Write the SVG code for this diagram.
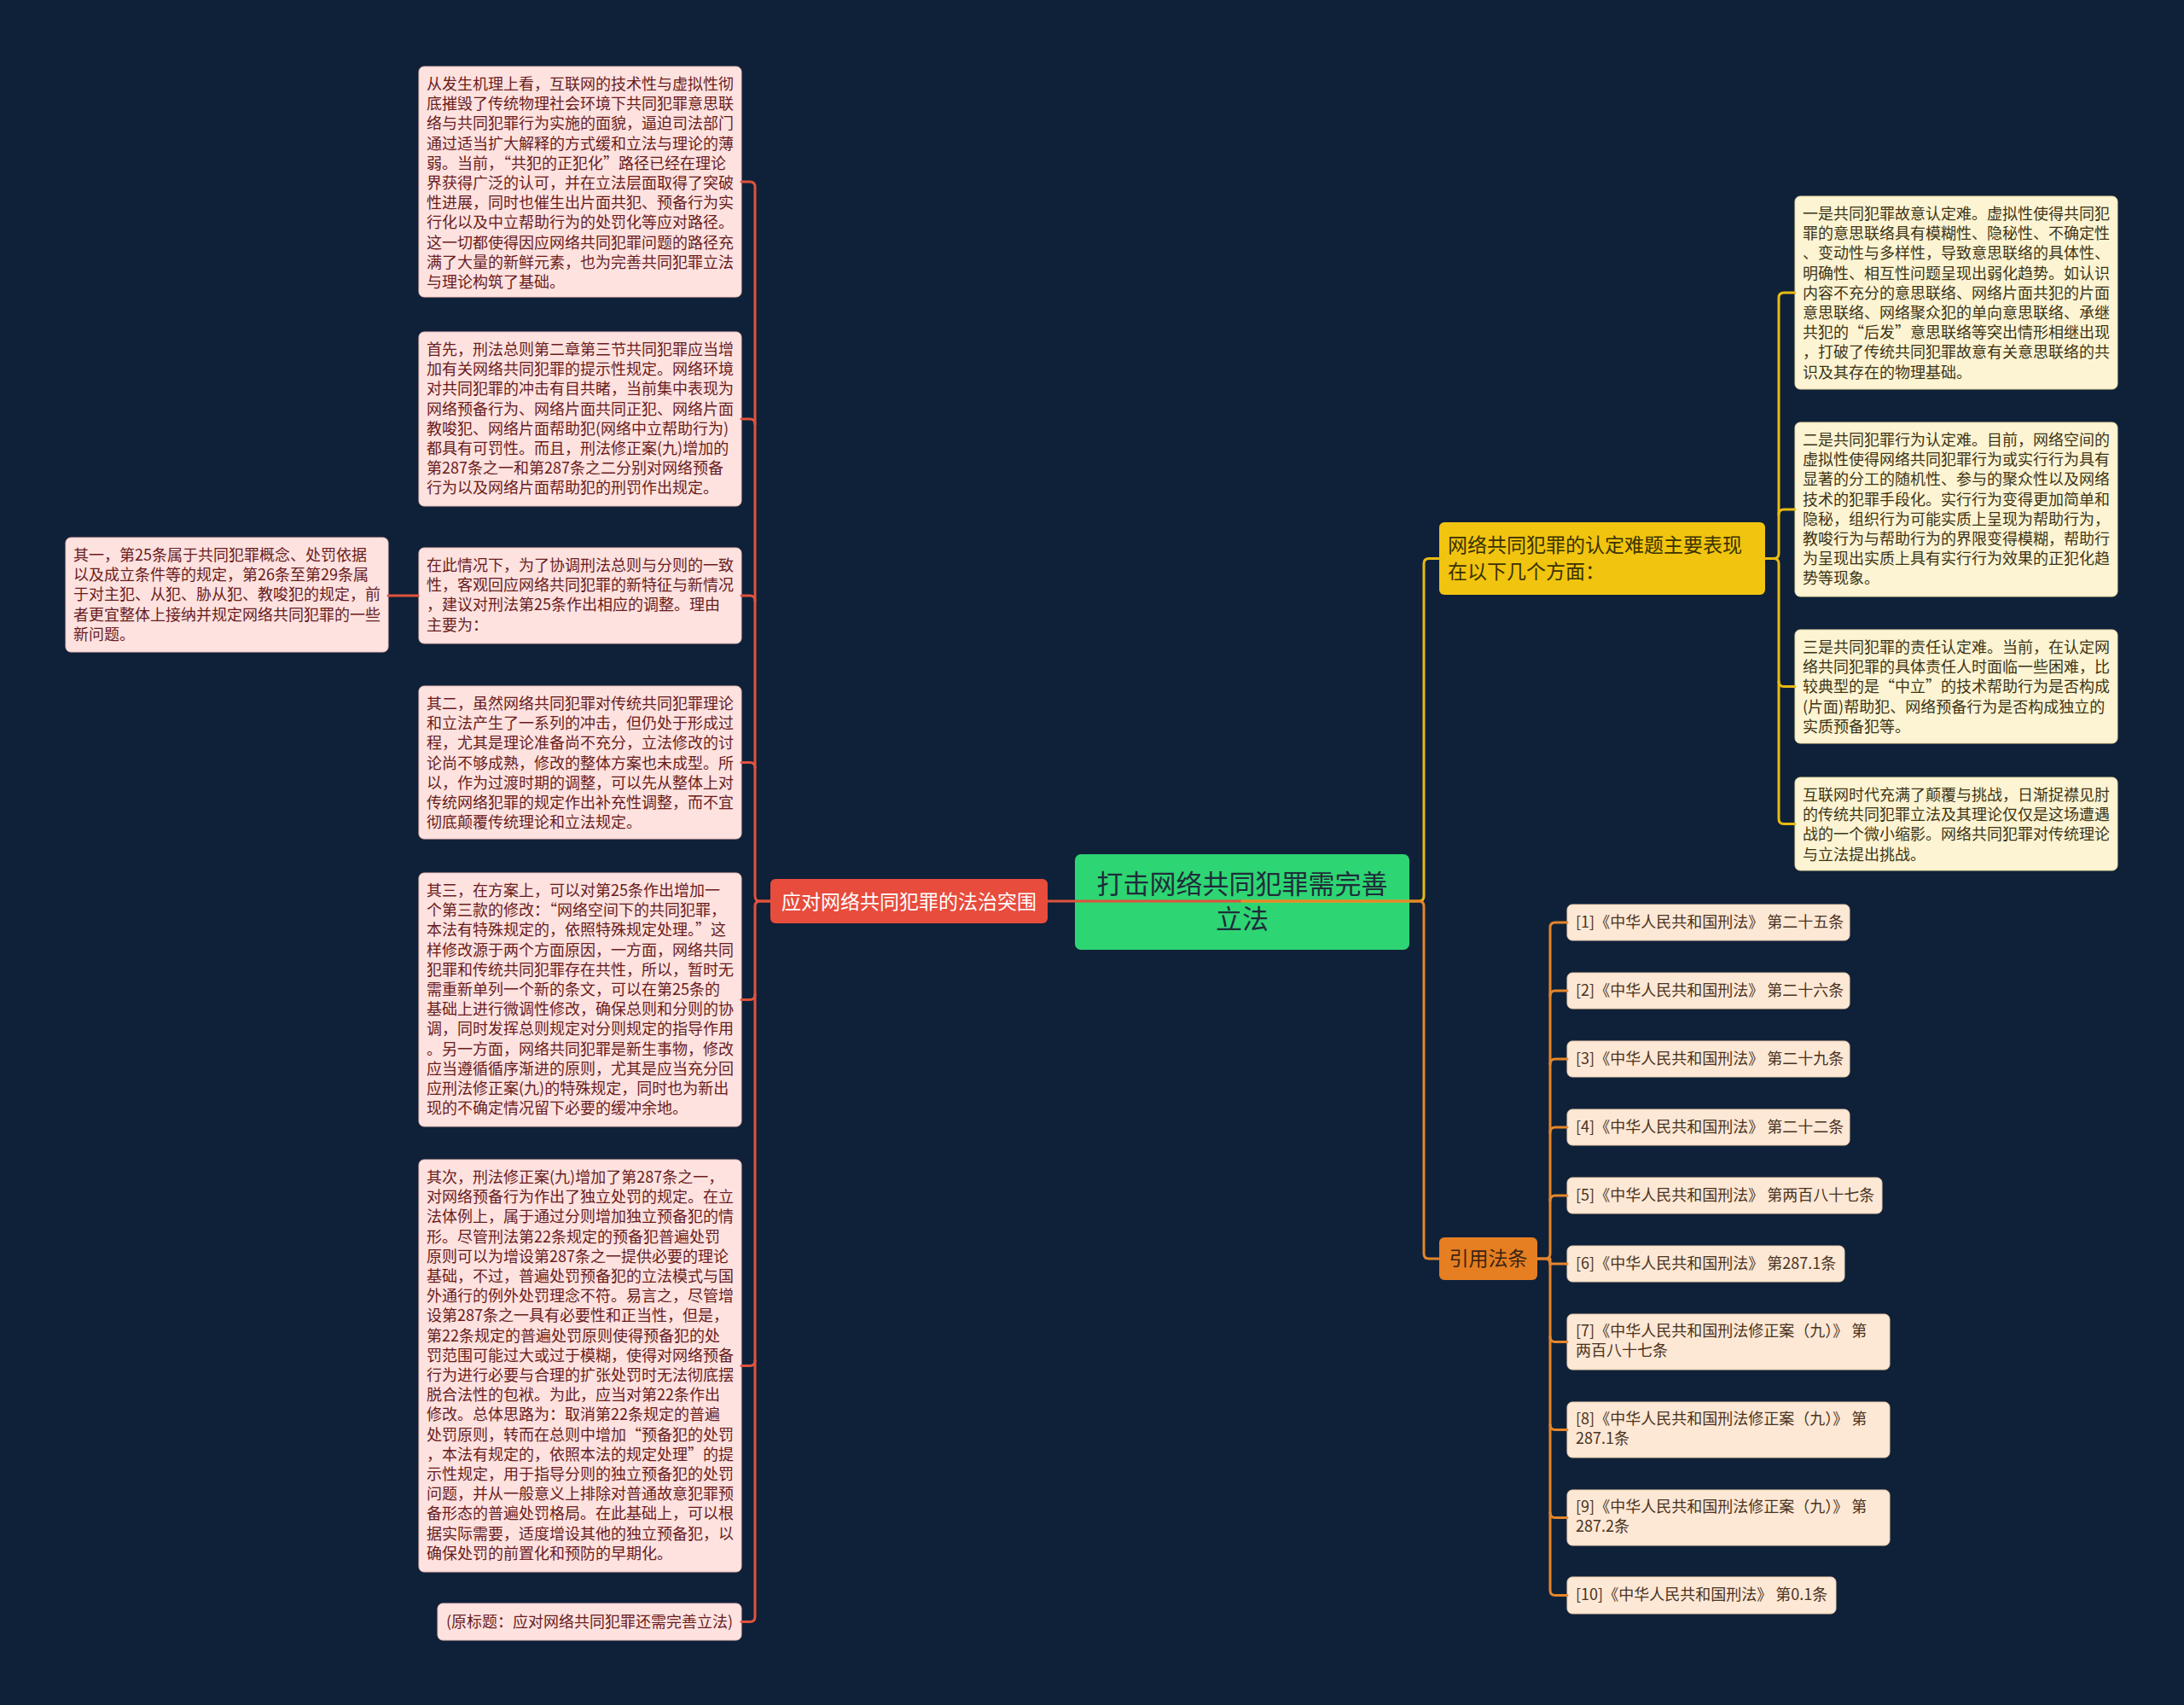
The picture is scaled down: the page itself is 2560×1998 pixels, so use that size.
<svg xmlns="http://www.w3.org/2000/svg" width="2560" height="1998" viewBox="0 0 2560 1998">
<style>
text{font-family:"Noto Sans CJK SC","Noto Sans",sans-serif}
.pk{fill:#fde2e0;stroke:#f3c2bd;stroke-width:1}
.pt{font-size:18px;fill:#6a1c1c}
.cr{fill:#fcf4d3;stroke:#eadba0;stroke-width:1}
.ct{font-size:18px;fill:#3d3416}
.rf{fill:#fde8d5;stroke:#eecfae;stroke-width:1}
.rt{font-size:18px;fill:#4a3322}
.cl{fill:none;stroke-width:3;stroke-linecap:round}
.red{stroke:#e0533d}
.yel{stroke:#e8bb12}
.org{stroke:#e5852a}
</style>
<rect width="2560" height="1998" fill="#0f2139"/>

<g id="root">
<rect x="1260" y="1001" width="392" height="112" rx="7" fill="#2ed573"/>
<text x="1456" y="1047" font-size="31" fill="#1f2d3a" text-anchor="middle">打击网络共同犯罪需完善</text>
<text x="1456" y="1088" font-size="31" fill="#1f2d3a" text-anchor="middle">立法</text>
</g>

<g id="n-left">
<rect x="903" y="1030" width="325" height="52" rx="6" fill="#e74c3c"/>
<text x="1065.5" y="1065" font-size="23" fill="#ffffff" text-anchor="middle">应对网络共同犯罪的法治突围</text>
</g>

<g id="n-l1">
<rect class="pk" x="491" y="78" width="378" height="270" rx="6"/>
<text class="pt"><tspan x="500" y="105">从发生机理上看，互联网的技术性与虚拟性彻</tspan><tspan x="500" y="128.2">底摧毁了传统物理社会环境下共同犯罪意思联</tspan><tspan x="500" y="151.4">络与共同犯罪行为实施的面貌，逼迫司法部门</tspan><tspan x="500" y="174.6">通过适当扩大解释的方式缓和立法与理论的薄</tspan><tspan x="500" y="197.8">弱。当前，“共犯的正犯化”路径已经在理论</tspan><tspan x="500" y="221">界获得广泛的认可，并在立法层面取得了突破</tspan><tspan x="500" y="244.2">性进展，同时也催生出片面共犯、预备行为实</tspan><tspan x="500" y="267.4">行化以及中立帮助行为的处罚化等应对路径。</tspan><tspan x="500" y="290.6">这一切都使得因应网络共同犯罪问题的路径充</tspan><tspan x="500" y="313.8">满了大量的新鲜元素，也为完善共同犯罪立法</tspan><tspan x="500" y="337">与理论构筑了基础。</tspan></text>
</g>

<g id="n-l2">
<rect class="pk" x="491" y="389" width="378" height="204" rx="6"/>
<text class="pt"><tspan x="500" y="416">首先，刑法总则第二章第三节共同犯罪应当增</tspan><tspan x="500" y="439.2">加有关网络共同犯罪的提示性规定。网络环境</tspan><tspan x="500" y="462.4">对共同犯罪的冲击有目共睹，当前集中表现为</tspan><tspan x="500" y="485.6">网络预备行为、网络片面共同正犯、网络片面</tspan><tspan x="500" y="508.8">教唆犯、网络片面帮助犯(网络中立帮助行为)</tspan><tspan x="500" y="532">都具有可罚性。而且，刑法修正案(九)增加的</tspan><tspan x="500" y="555.2">第287条之一和第287条之二分别对网络预备</tspan><tspan x="500" y="578.4">行为以及网络片面帮助犯的刑罚作出规定。</tspan></text>
</g>

<g id="n-l3">
<rect class="pk" x="491" y="642" width="378" height="112" rx="6"/>
<text class="pt"><tspan x="500" y="669">在此情况下，为了协调刑法总则与分则的一致</tspan><tspan x="500" y="692.2">性，客观回应网络共同犯罪的新特征与新情况</tspan><tspan x="500" y="715.4">，建议对刑法第25条作出相应的调整。理由</tspan><tspan x="500" y="738.6">主要为：</tspan></text>
</g>

<g id="n-l3a">
<rect class="pk" x="77" y="630" width="378" height="134" rx="6"/>
<text class="pt"><tspan x="86" y="657">其一，第25条属于共同犯罪概念、处罚依据</tspan><tspan x="86" y="680.2">以及成立条件等的规定，第26条至第29条属</tspan><tspan x="86" y="703.4">于对主犯、从犯、胁从犯、教唆犯的规定，前</tspan><tspan x="86" y="726.6">者更宜整体上接纳并规定网络共同犯罪的一些</tspan><tspan x="86" y="749.8">新问题。</tspan></text>
</g>

<g id="n-l4">
<rect class="pk" x="491" y="804" width="378" height="179" rx="6"/>
<text class="pt"><tspan x="500" y="831">其二，虽然网络共同犯罪对传统共同犯罪理论</tspan><tspan x="500" y="854.2">和立法产生了一系列的冲击，但仍处于形成过</tspan><tspan x="500" y="877.4">程，尤其是理论准备尚不充分，立法修改的讨</tspan><tspan x="500" y="900.6">论尚不够成熟，修改的整体方案也未成型。所</tspan><tspan x="500" y="923.8">以，作为过渡时期的调整，可以先从整体上对</tspan><tspan x="500" y="947">传统网络犯罪的规定作出补充性调整，而不宜</tspan><tspan x="500" y="970.2">彻底颠覆传统理论和立法规定。</tspan></text>
</g>

<g id="n-l5">
<rect class="pk" x="491" y="1023" width="378" height="297" rx="6"/>
<text class="pt"><tspan x="500" y="1050">其三，在方案上，可以对第25条作出增加一</tspan><tspan x="500" y="1073.2">个第三款的修改：“网络空间下的共同犯罪，</tspan><tspan x="500" y="1096.4">本法有特殊规定的，依照特殊规定处理。”这</tspan><tspan x="500" y="1119.6">样修改源于两个方面原因，一方面，网络共同</tspan><tspan x="500" y="1142.8">犯罪和传统共同犯罪存在共性，所以，暂时无</tspan><tspan x="500" y="1166">需重新单列一个新的条文，可以在第25条的</tspan><tspan x="500" y="1189.2">基础上进行微调性修改，确保总则和分则的协</tspan><tspan x="500" y="1212.4">调，同时发挥总则规定对分则规定的指导作用</tspan><tspan x="500" y="1235.6">。另一方面，网络共同犯罪是新生事物，修改</tspan><tspan x="500" y="1258.8">应当遵循循序渐进的原则，尤其是应当充分回</tspan><tspan x="500" y="1282">应刑法修正案(九)的特殊规定，同时也为新出</tspan><tspan x="500" y="1305.2">现的不确定情况留下必要的缓冲余地。</tspan></text>
</g>

<g id="n-l6">
<rect class="pk" x="491" y="1359" width="378" height="483" rx="6"/>
<text class="pt"><tspan x="500" y="1386">其次，刑法修正案(九)增加了第287条之一，</tspan><tspan x="500" y="1409.2">对网络预备行为作出了独立处罚的规定。在立</tspan><tspan x="500" y="1432.4">法体例上，属于通过分则增加独立预备犯的情</tspan><tspan x="500" y="1455.6">形。尽管刑法第22条规定的预备犯普遍处罚</tspan><tspan x="500" y="1478.8">原则可以为增设第287条之一提供必要的理论</tspan><tspan x="500" y="1502">基础，不过，普遍处罚预备犯的立法模式与国</tspan><tspan x="500" y="1525.2">外通行的例外处罚理念不符。易言之，尽管增</tspan><tspan x="500" y="1548.4">设第287条之一具有必要性和正当性，但是，</tspan><tspan x="500" y="1571.6">第22条规定的普遍处罚原则使得预备犯的处</tspan><tspan x="500" y="1594.8">罚范围可能过大或过于模糊，使得对网络预备</tspan><tspan x="500" y="1618">行为进行必要与合理的扩张处罚时无法彻底摆</tspan><tspan x="500" y="1641.2">脱合法性的包袱。为此，应当对第22条作出</tspan><tspan x="500" y="1664.4">修改。总体思路为：取消第22条规定的普遍</tspan><tspan x="500" y="1687.6">处罚原则，转而在总则中增加“预备犯的处罚</tspan><tspan x="500" y="1710.8">，本法有规定的，依照本法的规定处理”的提</tspan><tspan x="500" y="1734">示性规定，用于指导分则的独立预备犯的处罚</tspan><tspan x="500" y="1757.2">问题，并从一般意义上排除对普通故意犯罪预</tspan><tspan x="500" y="1780.4">备形态的普遍处罚格局。在此基础上，可以根</tspan><tspan x="500" y="1803.6">据实际需要，适度增设其他的独立预备犯，以</tspan><tspan x="500" y="1826.8">确保处罚的前置化和预防的早期化。</tspan></text>
</g>

<g id="n-l7">
<rect class="pk" x="513" y="1879" width="356" height="43" rx="6"/>
<text class="pt" x="523" y="1907">(原标题：应对网络共同犯罪还需完善立法)</text>
</g>

<g id="n-right1">
<rect x="1687" y="612" width="382" height="85" rx="6" fill="#f1c40f"/>
<text font-size="23" fill="#3a3200"><tspan x="1697" y="647">网络共同犯罪的认定难题主要表现</tspan><tspan x="1697" y="678">在以下几个方面：</tspan></text>
</g>

<g id="n-r1">
<rect class="cr" x="2104" y="230" width="378" height="226" rx="6"/>
<text class="ct"><tspan x="2113" y="257">一是共同犯罪故意认定难。虚拟性使得共同犯</tspan><tspan x="2113" y="280.2">罪的意思联络具有模糊性、隐秘性、不确定性</tspan><tspan x="2113" y="303.4">、变动性与多样性，导致意思联络的具体性、</tspan><tspan x="2113" y="326.6">明确性、相互性问题呈现出弱化趋势。如认识</tspan><tspan x="2113" y="349.8">内容不充分的意思联络、网络片面共犯的片面</tspan><tspan x="2113" y="373">意思联络、网络聚众犯的单向意思联络、承继</tspan><tspan x="2113" y="396.2">共犯的“后发”意思联络等突出情形相继出现</tspan><tspan x="2113" y="419.4">，打破了传统共同犯罪故意有关意思联络的共</tspan><tspan x="2113" y="442.6">识及其存在的物理基础。</tspan></text>
</g>

<g id="n-r2">
<rect class="cr" x="2104" y="495" width="378" height="204" rx="6"/>
<text class="ct"><tspan x="2113" y="522">二是共同犯罪行为认定难。目前，网络空间的</tspan><tspan x="2113" y="545.2">虚拟性使得网络共同犯罪行为或实行行为具有</tspan><tspan x="2113" y="568.4">显著的分工的随机性、参与的聚众性以及网络</tspan><tspan x="2113" y="591.6">技术的犯罪手段化。实行行为变得更加简单和</tspan><tspan x="2113" y="614.8">隐秘，组织行为可能实质上呈现为帮助行为，</tspan><tspan x="2113" y="638">教唆行为与帮助行为的界限变得模糊，帮助行</tspan><tspan x="2113" y="661.2">为呈现出实质上具有实行行为效果的正犯化趋</tspan><tspan x="2113" y="684.4">势等现象。</tspan></text>
</g>

<g id="n-r3">
<rect class="cr" x="2104" y="738" width="378" height="133" rx="6"/>
<text class="ct"><tspan x="2113" y="765">三是共同犯罪的责任认定难。当前，在认定网</tspan><tspan x="2113" y="788.2">络共同犯罪的具体责任人时面临一些困难，比</tspan><tspan x="2113" y="811.4">较典型的是“中立”的技术帮助行为是否构成</tspan><tspan x="2113" y="834.6">(片面)帮助犯、网络预备行为是否构成独立的</tspan><tspan x="2113" y="857.8">实质预备犯等。</tspan></text>
</g>

<g id="n-r4">
<rect class="cr" x="2104" y="911" width="378" height="109" rx="6"/>
<text class="ct"><tspan x="2113" y="938">互联网时代充满了颠覆与挑战，日渐捉襟见肘</tspan><tspan x="2113" y="961.2">的传统共同犯罪立法及其理论仅仅是这场遭遇</tspan><tspan x="2113" y="984.4">战的一个微小缩影。网络共同犯罪对传统理论</tspan><tspan x="2113" y="1007.6">与立法提出挑战。</tspan></text>
</g>

<g id="n-right2">
<rect x="1687" y="1450" width="115" height="50" rx="6" fill="#e67e22"/>
<text x="1744.5" y="1483" font-size="23" fill="#3a2410" text-anchor="middle">引用法条</text>
</g>

<g id="n-ref1"><rect class="rf" x="1837" y="1060" width="331" height="42" rx="6"/><text class="rt" x="1847" y="1087">[1]《中华人民共和国刑法》 第二十五条</text></g>
<g id="n-ref2"><rect class="rf" x="1837" y="1140" width="331" height="42" rx="6"/><text class="rt" x="1847" y="1167">[2]《中华人民共和国刑法》 第二十六条</text></g>
<g id="n-ref3"><rect class="rf" x="1837" y="1220" width="331" height="42" rx="6"/><text class="rt" x="1847" y="1247">[3]《中华人民共和国刑法》 第二十九条</text></g>
<g id="n-ref4"><rect class="rf" x="1837" y="1300" width="331" height="42" rx="6"/><text class="rt" x="1847" y="1327">[4]《中华人民共和国刑法》 第二十二条</text></g>
<g id="n-ref5"><rect class="rf" x="1837" y="1380" width="369" height="42" rx="6"/><text class="rt" x="1847" y="1407">[5]《中华人民共和国刑法》 第两百八十七条</text></g>
<g id="n-ref6"><rect class="rf" x="1837" y="1460" width="325" height="42" rx="6"/><text class="rt" x="1847" y="1487">[6]《中华人民共和国刑法》 第287.1条</text></g>
<g id="n-ref7"><rect class="rf" x="1837" y="1540" width="378" height="65" rx="6"/><text class="rt"><tspan x="1847" y="1566">[7]《中华人民共和国刑法修正案（九）》 第</tspan><tspan x="1847" y="1589">两百八十七条</tspan></text></g>
<g id="n-ref8"><rect class="rf" x="1837" y="1643" width="378" height="65" rx="6"/><text class="rt"><tspan x="1847" y="1669">[8]《中华人民共和国刑法修正案（九）》 第</tspan><tspan x="1847" y="1692">287.1条</tspan></text></g>
<g id="n-ref9"><rect class="rf" x="1837" y="1746" width="378" height="65" rx="6"/><text class="rt"><tspan x="1847" y="1772">[9]《中华人民共和国刑法修正案（九）》 第</tspan><tspan x="1847" y="1795">287.2条</tspan></text></g>
<g id="n-ref10"><rect class="rf" x="1837" y="1848" width="315" height="43" rx="6"/><text class="rt" x="1847" y="1875">[10]《中华人民共和国刑法》 第0.1条</text></g>

<g id="connectors">
<path class="cl red" d="M1456,1056 H1228"/>
<path class="cl red" d="M903,1056 H891 Q885,1056 885,1050 V219 Q885,213 879,213 H869"/>
<path class="cl red" d="M885,497 Q885,491 879,491 H869"/>
<path class="cl red" d="M885,704 Q885,698 879,698 H869"/>
<path class="cl red" d="M885,899.5 Q885,893.5 879,893.5 H869"/>
<path class="cl red" d="M903,1056 H891 Q885,1056 885,1062 V1894.5 Q885,1900.5 879,1900.5 H869"/>
<path class="cl red" d="M885,1165.5 Q885,1171.5 879,1171.5 H869"/>
<path class="cl red" d="M885,1594.5 Q885,1600.5 879,1600.5 H869"/>
<path class="cl red" d="M490,698 H455"/>
<path class="cl yel" d="M1456,1056 H1663 Q1669,1056 1669,1050 V660.5 Q1669,654.5 1675,654.5 H1687"/>
<path class="cl org" d="M1456,1056 H1663 Q1669,1056 1669,1062 V1469 Q1669,1475 1675,1475 H1687"/>
<path class="cl yel" d="M2069,654.5 H2079 Q2085,654.5 2085,648.5 V349 Q2085,343 2091,343 H2104"/>
<path class="cl yel" d="M2085,603 Q2085,597 2091,597 H2104"/>
<path class="cl yel" d="M2069,654.5 H2079 Q2085,654.5 2085,660.5 V959.5 Q2085,965.5 2091,965.5 H2104"/>
<path class="cl yel" d="M2085,798.5 Q2085,804.5 2091,804.5 H2104"/>
<path class="cl org" d="M1802,1475 H1811 Q1817,1475 1817,1469 V1087 Q1817,1081 1823,1081 H1837"/>
<path class="cl org" d="M1817,1167 Q1817,1161 1823,1161 H1837"/>
<path class="cl org" d="M1817,1247 Q1817,1241 1823,1241 H1837"/>
<path class="cl org" d="M1817,1327 Q1817,1321 1823,1321 H1837"/>
<path class="cl org" d="M1817,1407 Q1817,1401 1823,1401 H1837"/>
<path class="cl org" d="M1802,1475 H1811 Q1817,1475 1817,1481 V1863.5 Q1817,1869.5 1823,1869.5 H1837"/>
<path class="cl org" d="M1817,1475 V1481 H1837"/>
<path class="cl org" d="M1817,1566.5 Q1817,1572.5 1823,1572.5 H1837"/>
<path class="cl org" d="M1817,1669.5 Q1817,1675.5 1823,1675.5 H1837"/>
<path class="cl org" d="M1817,1772.5 Q1817,1778.5 1823,1778.5 H1837"/>
</g>
</svg>
